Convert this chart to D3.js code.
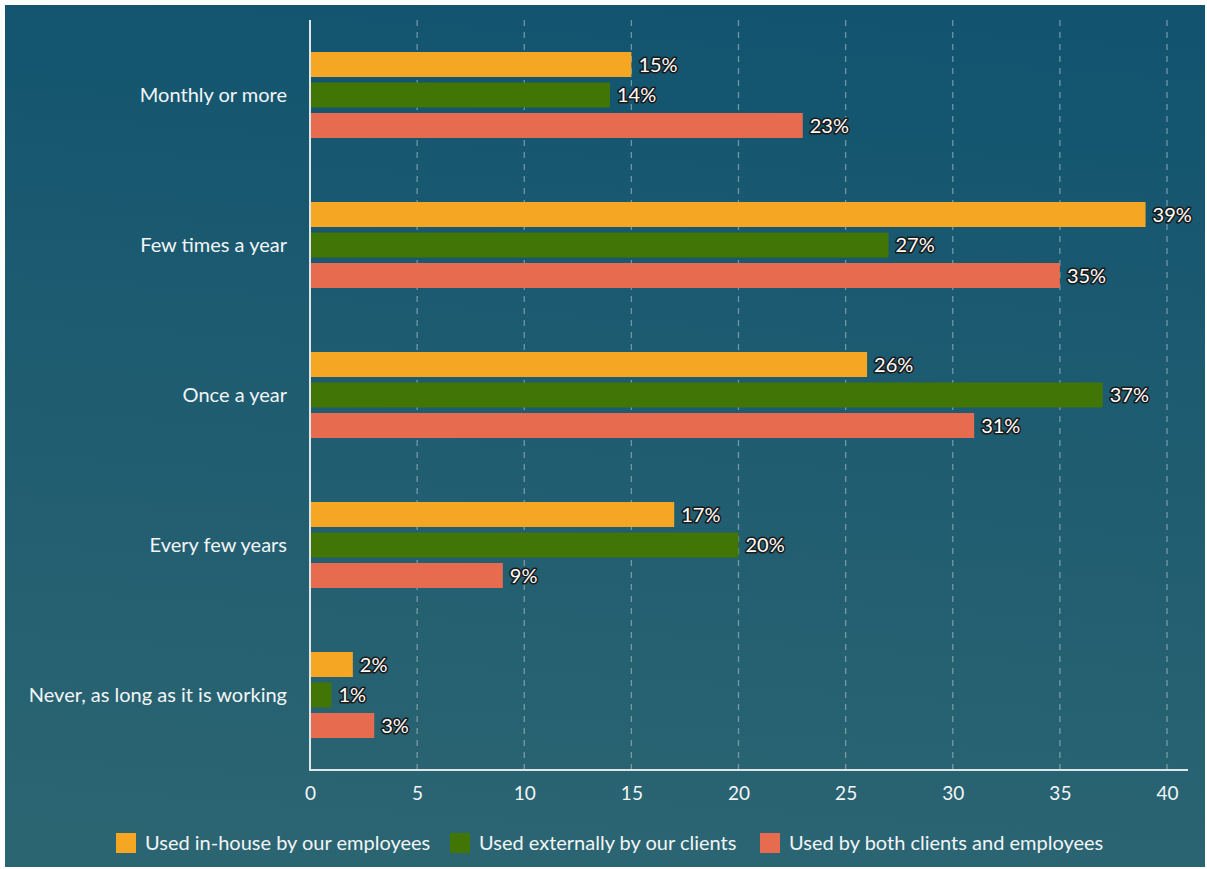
<!DOCTYPE html>
<html>
<head>
<meta charset="utf-8">
<script src="https://cdn.jsdelivr.net/npm/d3@7"></script>
<style>
  html, body { margin: 0; padding: 0; background: #ffffff; }
  svg { display: block; font-family: Lato, "Open Sans", sans-serif; }
</style>
</head>
<body>
<svg id="chart" width="1207" height="869"></svg>
<script>
// Survey answers: how often the software is updated, split by who uses it
const categories = [
  "Monthly or more",
  "Few times a year",
  "Once a year",
  "Every few years",
  "Never, as long as it is working"
];
const seriesNames = [
  "Used in-house by our employees",
  "Used externally by our clients",
  "Used by both clients and employees"
];
const seriesColors = ["#f5a623", "#417505", "#e76b4f"];
const inHouse  = [15, 39, 26, 17, 2];
const external = [14, 27, 37, 20, 1];
const both     = [23, 35, 31, 9, 3];
const xTicks = [0, 5, 10, 15, 20, 25, 30, 35, 40];

const seriesValues = [inHouse, external, both];

const svg = d3.select("#chart");

// background panel with a soft top-to-bottom gradient
const defs = svg.append("defs");
const grad = defs.append("linearGradient")
  .attr("id", "bg").attr("x1", "55%").attr("y1", "0%").attr("x2", "45%").attr("y2", "100%");
grad.append("stop").attr("offset", "0%").attr("stop-color", "#12546f");
grad.append("stop").attr("offset", "100%").attr("stop-color", "#2c6572");
svg.append("rect")
  .attr("x", 5).attr("y", 5).attr("width", 1200).attr("height", 862)
  .attr("fill", "url(#bg)");

const plot = { left: 310, right: 1167, top: 20, bottom: 770 };

const x = d3.scaleLinear().domain([0, 40]).range([plot.left, plot.right]);
const y0 = d3.scaleBand().domain(categories).range([plot.top, plot.bottom]);
const y1 = d3.scaleBand().domain(d3.range(seriesNames.length))
  .range([32, 118]).paddingInner(0.18).paddingOuter(0);

// dashed vertical gridlines
svg.append("g")
  .selectAll("line")
  .data(xTicks.filter(t => t > 0))
  .join("line")
  .attr("x1", d => x(d)).attr("x2", d => x(d))
  .attr("y1", plot.top).attr("y2", plot.bottom)
  .attr("stroke", "#a9c2cb").attr("stroke-opacity", 0.6)
  .attr("stroke-width", 1.3)
  .attr("stroke-dasharray", "6,6");

// bars and value labels, one group per category
const groups = svg.append("g")
  .selectAll("g")
  .data(categories)
  .join("g")
  .attr("transform", d => `translate(0,${y0(d)})`);

groups.each(function (c, ci) {
  const g = d3.select(this);
  const rows = seriesValues.map((vals, si) => ({ si, v: vals[ci] }));
  g.selectAll("rect")
    .data(rows)
    .join("rect")
    .attr("x", x(0))
    .attr("y", d => y1(d.si))
    .attr("width", d => x(d.v) - x(0))
    .attr("height", y1.bandwidth())
    .attr("fill", d => seriesColors[d.si]);
  g.selectAll("text")
    .data(rows)
    .join("text")
    .attr("x", d => x(d.v) + 7)
    .attr("y", d => y1(d.si) + y1.bandwidth() / 2)
    .attr("dy", "0.36em")
    .attr("font-size", 20)
    .attr("fill", "#ffffff")
    .attr("stroke", "#1b1b1b")
    .attr("stroke-width", 3.2)
    .attr("stroke-linejoin", "round")
    .attr("paint-order", "stroke")
    .text(d => d.v + "%");
});

// category labels
svg.append("g")
  .selectAll("text")
  .data(categories)
  .join("text")
  .attr("x", 287)
  .attr("y", d => y0(d) + y0.bandwidth() / 2)
  .attr("dy", "0.35em")
  .attr("text-anchor", "end")
  .attr("font-size", 20)
  .attr("fill", "#f2f5f6")
  .text(d => d);

// axis lines
svg.append("line")
  .attr("x1", plot.left).attr("x2", plot.left)
  .attr("y1", plot.top).attr("y2", plot.bottom)
  .attr("stroke", "#dfe6e9").attr("stroke-width", 2);
svg.append("line")
  .attr("x1", plot.left - 1).attr("x2", 1188)
  .attr("y1", plot.bottom).attr("y2", plot.bottom)
  .attr("stroke", "#dfe6e9").attr("stroke-width", 2);

// x tick labels
const xAxis = d3.axisBottom(x).tickValues(xTicks).tickSize(0).tickPadding(17);
const ax = svg.append("g")
  .attr("transform", `translate(0,${plot.bottom})`)
  .call(xAxis);
ax.select(".domain").remove();
ax.selectAll("text")
  .attr("font-family", "Lato, sans-serif")
  .attr("font-size", 19)
  .attr("fill", "#f2f5f6");

// legend
const legendX = [116, 450, 760];
const legend = svg.append("g")
  .selectAll("g")
  .data(seriesNames)
  .join("g")
  .attr("transform", (d, i) => `translate(${legendX[i]},833)`);
legend.append("rect")
  .attr("width", 20).attr("height", 20)
  .attr("fill", (d, i) => seriesColors[i]);
legend.append("text")
  .attr("x", 29).attr("y", 10).attr("dy", "0.36em")
  .attr("font-size", 20)
  .attr("fill", "#f2f5f6")
  .text(d => d);
</script>
</body>
</html>
